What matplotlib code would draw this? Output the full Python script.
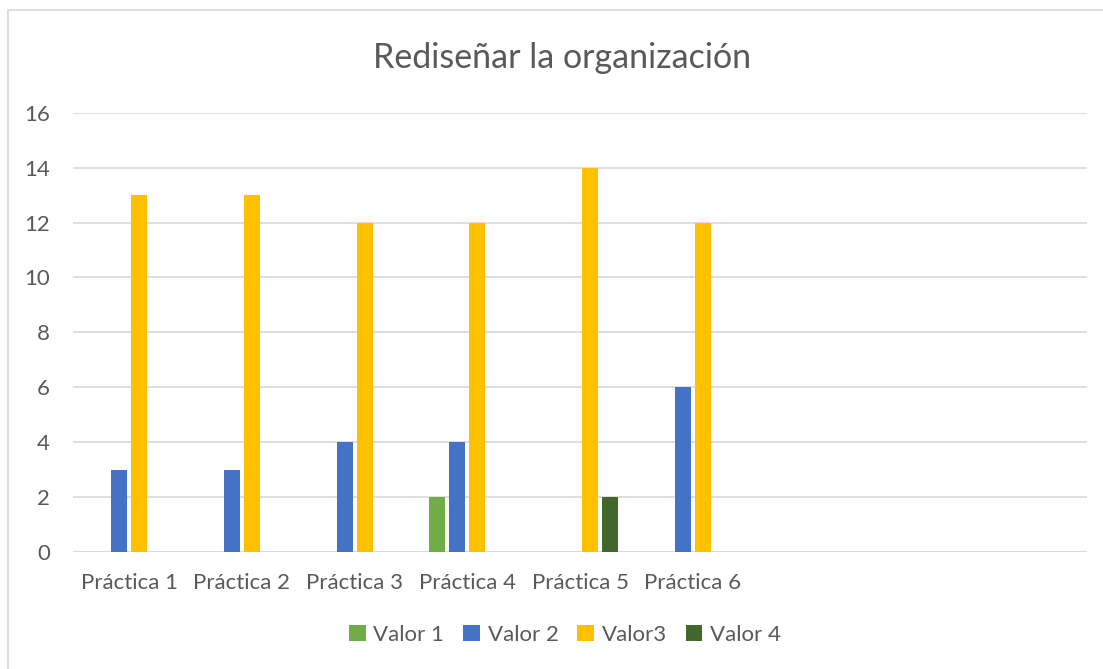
import matplotlib
matplotlib.use("Agg")
import matplotlib.pyplot as plt
import numpy as np
from matplotlib.patches import Rectangle

categories = ["Práctica 1", "Práctica 2", "Práctica 3", "Práctica 4", "Práctica 5", "Práctica 6", "", "", ""]
series_names = ["Valor 1", "Valor 2", "Valor3", "Valor 4"]
valor1 = [0, 0, 0, 2, 0, 0, 0, 0, 0]
valor2 = [3, 3, 4, 4, 0, 6, 0, 0, 0]
valor3 = [13, 13, 12, 12, 14, 12, 0, 0, 0]
valor4 = [0, 0, 0, 0, 2, 0, 0, 0, 0]
colors = ["#70AD47", "#4472C4", "#FFC000", "#43682B"]
yticks = [0, 2, 4, 6, 8, 10, 12, 14, 16]

plt.rcParams['font.family'] = ['Lato', 'DejaVu Sans']
W, H = 1103, 669
fig = plt.figure(figsize=(W/100, H/100), dpi=100)
fig.patch.set_facecolor("white")

# chart border
fig.patches.append(Rectangle((8/W, 0 - 0.1), 1.2, (H - 10)/H + 0.1, transform=fig.transFigure,
                             fill=False, edgecolor="#D9D9D9", linewidth=1.2, zorder=0))

ax = fig.add_axes([73/W, 1 - 552/H, (1087-73)/W, (552-112.7)/H])
x = np.arange(len(categories))
step = 20/112.7
width = 16/112.7
allvals = [valor1, valor2, valor3, valor4]
for i, (vals, c, name) in enumerate(zip(allvals, colors, series_names)):
    ax.bar(x + (i - 1.5)*step, vals, width=width, color=c, label=name, zorder=3)

ax.set_xlim(-0.5, len(categories) - 0.5)
ax.set_ylim(0, 16)
ax.set_yticks(yticks)
ax.set_xticks(x)
ax.set_xticklabels(categories)
ax.grid(axis='y', color="#D9D9D9", linewidth=1.2, zorder=0)
for s in ax.spines.values():
    s.set_visible(False)
ax.tick_params(axis='both', length=0, labelsize=16, colors="#595959")
ax.tick_params(axis='y', pad=16.5)
ax.tick_params(axis='x', pad=15)
ax.axhline(0, color="#D9D9D9", linewidth=1.2, zorder=2)

fig.text(562/W, 1 - 58/H, "Rediseñar la organización", ha='center', va='center',
         fontsize=24.5, color="#595959")

handles, labels = ax.get_legend_handles_labels()
leg = fig.legend(handles, labels, loc='center', bbox_to_anchor=(565/W, 1 - 635/H), ncol=4,
                 frameon=False, fontsize=16, handlelength=0.75, handleheight=0.75,
                 handletextpad=0.35, columnspacing=0.85)
for t in leg.get_texts():
    t.set_color("#595959")

fig.savefig("out.png", dpi=100, facecolor="white")
